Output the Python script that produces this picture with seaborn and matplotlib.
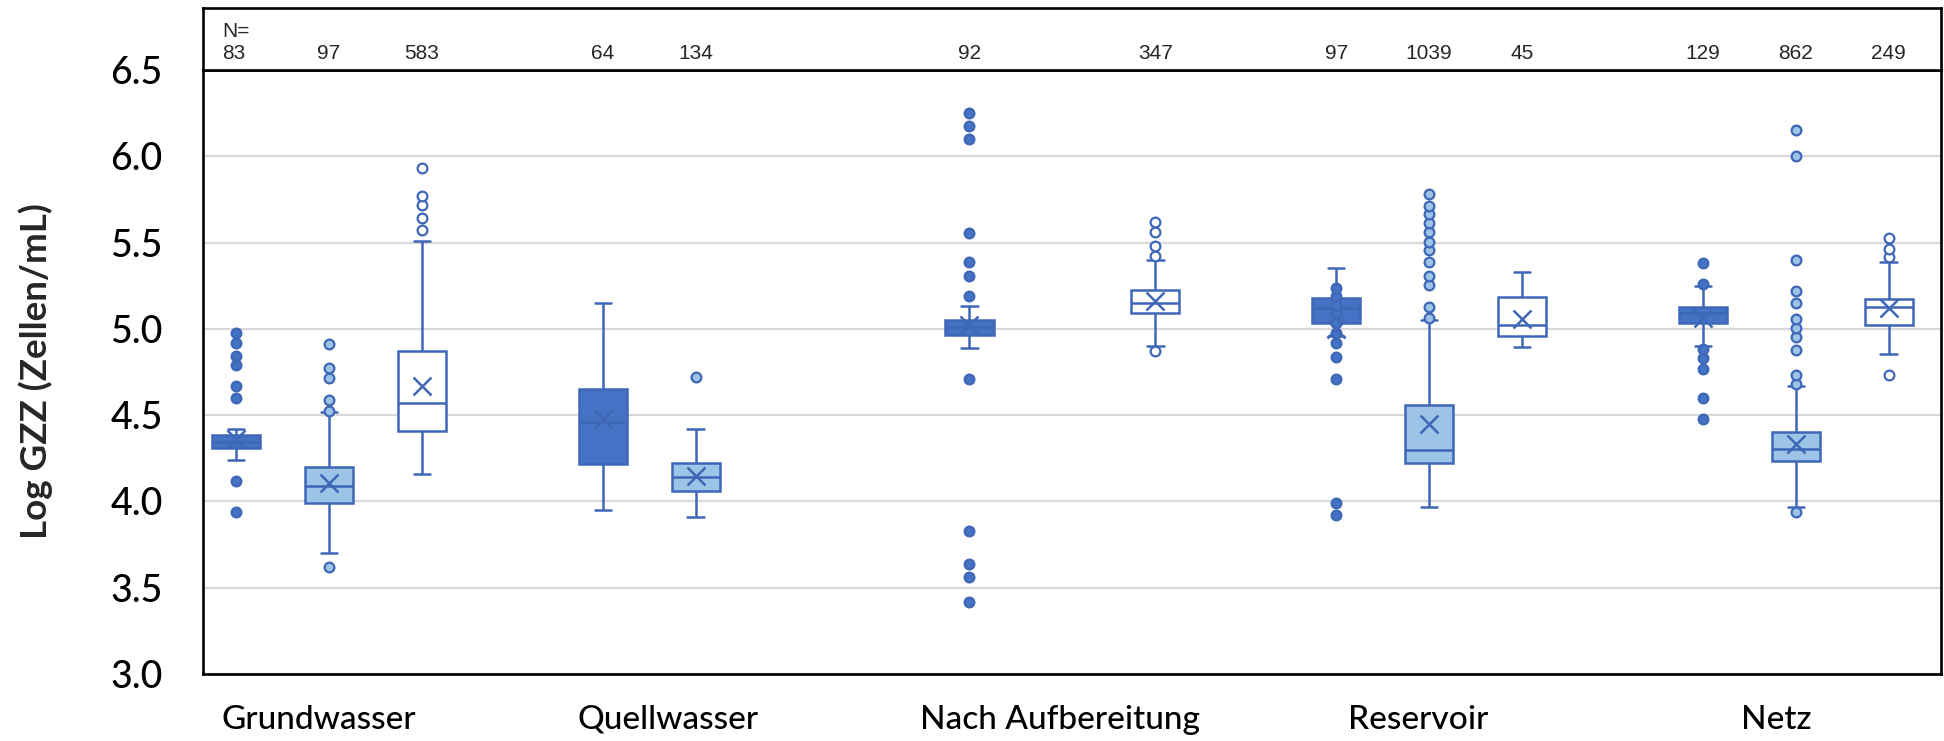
import numpy as np
import pandas as pd
import matplotlib
matplotlib.use("Agg")
import matplotlib.pyplot as plt
import matplotlib.transforms as mtransforms
import seaborn as sns

# ---------------- data ----------------
categories = ["Grundwasser", "Quellwasser", "Nach Aufbereitung", "Reservoir", "Netz"]
series = ["Serie 1", "Serie 2", "Serie 3"]

box_category = ["Grundwasser", "Grundwasser", "Grundwasser",
                "Quellwasser", "Quellwasser",
                "Nach Aufbereitung", "Nach Aufbereitung",
                "Reservoir", "Reservoir", "Reservoir",
                "Netz", "Netz", "Netz"]
box_series = ["Serie 1", "Serie 2", "Serie 3",
              "Serie 1", "Serie 2",
              "Serie 1", "Serie 3",
              "Serie 1", "Serie 2", "Serie 3",
              "Serie 1", "Serie 2", "Serie 3"]
whisker_low = [4.24, 3.70, 4.16, 3.95, 3.91, 4.89, 4.90, 4.96, 3.97, 4.895, 4.90, 3.965, 4.855]
q1 = [4.31, 3.99, 4.41, 4.215, 4.06, 4.965, 5.09, 5.035, 4.225, 4.96, 5.035, 4.235, 5.025]
median = [4.345, 4.09, 4.57, 4.46, 4.14, 5.01, 5.15, 5.12, 4.30, 5.02, 5.09, 4.305, 5.125]
q3 = [4.385, 4.20, 4.87, 4.65, 4.225, 5.05, 5.225, 5.18, 4.56, 5.185, 5.125, 4.40, 5.175]
whisker_high = [4.42, 4.52, 5.51, 5.15, 4.42, 5.135, 5.40, 5.355, 5.05, 5.33, 5.25, 4.67, 5.39]
mean = [4.36, 4.105, 4.67, 4.48, 4.15, 5.02, 5.16, 5.00, 4.45, 5.06, 5.065, 4.33, 5.12]
n_count = [83, 97, 583, 64, 134, 92, 347, 97, 1039, 45, 129, 862, 249]
outliers = [
    [3.94, 4.12, 4.60, 4.67, 4.79, 4.845, 4.92, 4.975],
    [3.62, 4.525, 4.59, 4.715, 4.775, 4.91],
    [5.57, 5.64, 5.715, 5.77, 5.93],
    [],
    [4.72],
    [3.42, 3.56, 3.635, 3.83, 4.71, 5.19, 5.305, 5.39, 5.555, 6.10, 6.175, 6.25],
    [4.87, 5.42, 5.48, 5.56, 5.62],
    [3.92, 3.99, 4.71, 4.835, 4.92, 4.975, 5.035, 5.09, 5.14, 5.19, 5.235],
    [5.065, 5.125, 5.255, 5.305, 5.39, 5.455, 5.505, 5.56, 5.615, 5.665, 5.71, 5.78],
    [],
    [4.48, 4.60, 4.765, 4.83, 4.885, 5.26, 5.38],
    [3.94, 4.68, 4.73, 4.875, 4.95, 5.005, 5.06, 5.15, 5.22, 5.40, 6.00, 6.15],
    [4.73, 5.415, 5.465, 5.525],
]
y_ticks = [3.0, 3.5, 4.0, 4.5, 5.0, 5.5, 6.0, 6.5]

# ---------------- style ----------------
fill_colors = ["#4472C4", "#9DC3E6", "#FFFFFF"]
edge_color = "#3F67B8"
grid_color = "#D9D9D9"

sns.set_theme(style="white")
plt.rcParams["font.family"] = ["Lato", "DejaVu Sans"]

fig = plt.figure(figsize=(19.44, 7.41), dpi=100)
ax_left, ax_width = 203 / 1944, 1738 / 1944
ax_bottom, ax_top = 1 - 674 / 741, 1 - 70 / 741
ax = fig.add_axes([ax_left, ax_bottom, ax_width, ax_top - ax_bottom])
n_top = 1 - 8 / 741
ax_n = fig.add_axes([ax_left, ax_top, ax_width, n_top - ax_top])

# box data: five-number summary rows per box
rows = []
for i in range(len(box_category)):
    for v in (whisker_low[i], q1[i], median[i], q3[i], whisker_high[i]):
        rows.append({"category": box_category[i], "series": box_series[i], "value": v})
box_df = pd.DataFrame(rows)

group_width = 0.76
slot = group_width / 3

sns.boxplot(data=box_df, x="category", y="value", hue="series",
            order=categories, hue_order=series, palette=fill_colors,
            saturation=1, linecolor=edge_color, linewidth=1.8,
            width=group_width, gap=0.483, whis=(0, 100), showfliers=False,
            dodge=True, legend=False, ax=ax, capwidths=0.045)

# outliers: one pointplot layer per rank so categorical dodge positions are reused
orows = []
for i in range(len(box_category)):
    for r, v in enumerate(outliers[i]):
        orows.append({"category": box_category[i], "series": box_series[i],
                      "rank": r, "value": v})
out_df = pd.DataFrame(orows)
for r in sorted(out_df["rank"].unique()):
    sub = out_df[out_df["rank"] == r]
    sns.pointplot(data=sub, x="category", y="value", hue="series",
                  order=categories, hue_order=series, palette=fill_colors,
                  dodge=2 * slot, errorbar=None, marker="o", linestyle="none",
                  markersize=7, markeredgewidth=1.6, markeredgecolor=edge_color,
                  legend=False, ax=ax, zorder=5)

# means
mean_df = pd.DataFrame({"category": box_category, "series": box_series, "value": mean})
sns.pointplot(data=mean_df, x="category", y="value", hue="series",
              order=categories, hue_order=series, palette=fill_colors,
              dodge=2 * slot, errorbar=None, marker="x", linestyle="none",
              markersize=13, markeredgewidth=1.8, markeredgecolor=edge_color,
              legend=False, ax=ax, zorder=6)

# axes formatting
xlim = (-0.3436, 4.396)
ax.set_xlim(*xlim)
ax.set_ylim(3.0, 6.5)
ax.set_yticks(y_ticks)
ax.set_yticklabels([f"{t:.1f}" for t in y_ticks], fontsize=27, fontweight="medium")
label_shift = [-0.027, -0.076, -0.008, -0.03, -0.052]
ax.set_xticks(np.arange(len(categories)) + np.array(label_shift))
ax.set_xticklabels(categories, fontsize=24, fontweight="medium")
ax.tick_params(axis="y", length=0, pad=29, colors="black")
ax.tick_params(axis="x", length=0, pad=22, colors="black")
ax.set_xlabel("")
ax.set_ylabel("")
ax.yaxis.grid(True, color=grid_color, linewidth=1.6)
ax.xaxis.grid(False)
ax.set_axisbelow(True)
for s in ax.spines.values():
    s.set_visible(True)
    s.set_color("black")
    s.set_linewidth(1.9)

fig.text(36 / 1944, 1 - 371 / 741, "Log GZZ (Zellen/mL)", rotation=90,
         ha="center", va="center", fontsize=26.5, fontweight="bold")

# N box
ax_n.set_xlim(*xlim)
ax_n.set_ylim(0, 1)
ax_n.set_xticks([])
ax_n.set_yticks([])
ax_n.set_facecolor("white")
for s in ax_n.spines.values():
    s.set_visible(True)
    s.set_color("black")
    s.set_linewidth(1.9)

centers = []
for p in ax.patches:
    ext = p.get_path().get_extents()
    centers.append((ext.x0 + ext.x1) / 2)
centers = sorted(centers)
order_idx = sorted(range(len(box_category)),
                   key=lambda i: (categories.index(box_category[i]), series.index(box_series[i])))
trans = mtransforms.blended_transform_factory(ax_n.transData, ax_n.transAxes)
for k, (cx, i) in enumerate(zip(centers, order_idx)):
    txt = f"N=\n{n_count[i]}" if k == 0 else str(n_count[i])
    ax_n.text(cx, 0.17, txt, transform=trans, ha="center", va="baseline",
              multialignment="left", fontsize=15, family="Liberation Sans",
              linespacing=1.2)

fig.savefig("out.png", dpi=100, facecolor="white")
